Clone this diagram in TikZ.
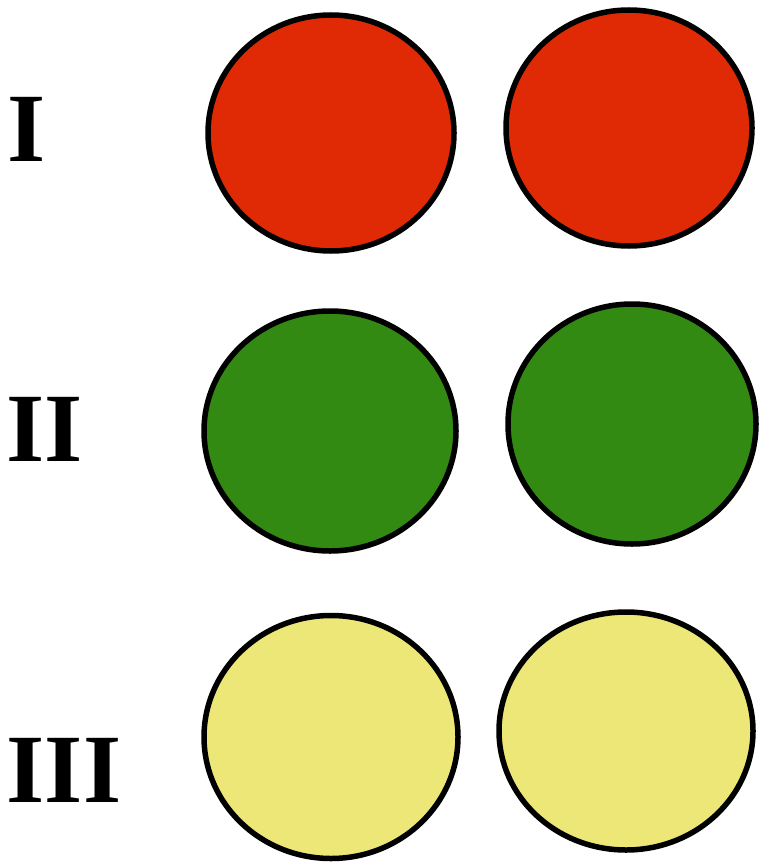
\documentclass[tikz,border=0pt]{standalone}
\usepackage{fontspec}
\setmainfont{Liberation Serif}
\usetikzlibrary{shapes.geometric}

\begin{document}
\begin{tikzpicture}[x=1pt, y=-1pt]
    % Define colours
    \definecolor{redFill}{HTML}{E02A05}
    \definecolor{greenFill}{HTML}{338A13}
    \definecolor{yellowFill}{HTML}{EDE777}

    % Define styles
    \tikzset{
        disc/.style={ellipse, draw=black, line width=5.5pt, inner sep=0pt},
        rowlabel/.style={anchor=base, inner sep=0pt, font=\fontsize{98}{98}\selectfont\bfseries}
    }

    % Fix picture size
    \useasboundingbox (0,0) rectangle (760,864);

    % Row labels
    \node[rowlabel] (labI) at (26.5,161) {I};
    \node[rowlabel] (labII) at (45,461) {II};
    \node[rowlabel] (labIII) at (64,802) {III};

    % Row I
    \node[disc, fill=redFill, minimum width=246pt, minimum height=236pt] (redA) at (331,133) {};
    \node[disc, fill=redFill, minimum width=246pt, minimum height=236pt] (redB) at (629,128) {};

    % Row II
    \node[disc, fill=greenFill, minimum width=252pt, minimum height=240pt] (greenA) at (330,431) {};
    \node[disc, fill=greenFill, minimum width=248pt, minimum height=240pt] (greenB) at (632,424) {};

    % Row III
    \node[disc, fill=yellowFill, minimum width=254pt, minimum height=243pt] (yellowA) at (331,737) {};
    \node[disc, fill=yellowFill, minimum width=254pt, minimum height=238pt] (yellowB) at (626,731) {};

\end{tikzpicture}
\end{document}
